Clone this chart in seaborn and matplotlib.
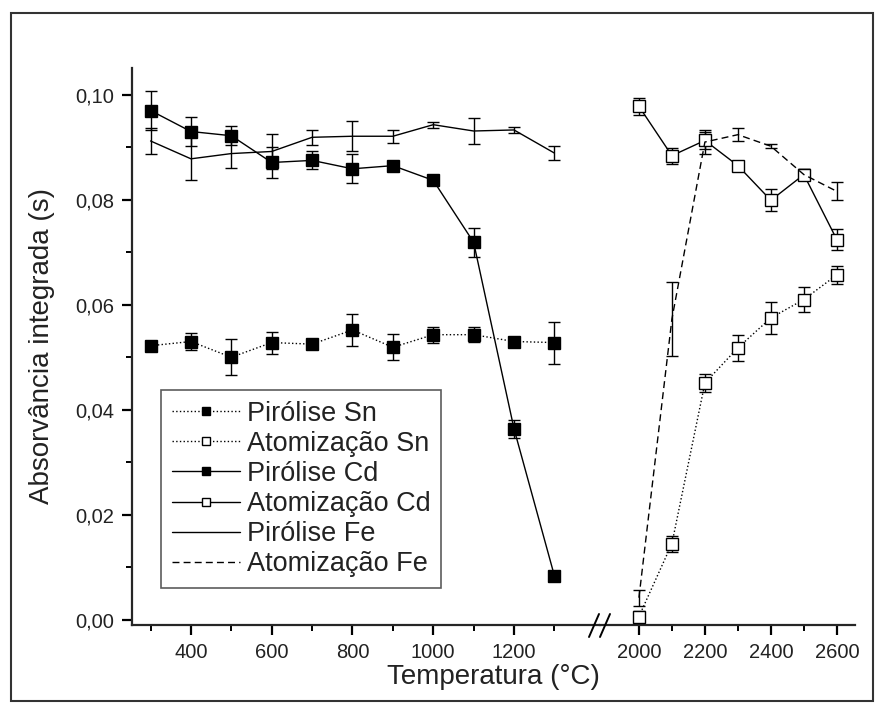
import matplotlib
matplotlib.use('Agg')
import matplotlib.pyplot as plt
from matplotlib.lines import Line2D
from matplotlib.patches import Rectangle
from matplotlib.ticker import FuncFormatter
import seaborn as sns

# temperatures (°C)
temp_pir = [300, 400, 500, 600, 700, 800, 900, 1000, 1100, 1200, 1300]
temp_atom = [2000, 2100, 2200, 2300, 2400, 2500, 2600]

# pyrolysis curves
sn_pir = [0.0522, 0.0530, 0.0500, 0.0528, 0.0525, 0.0552, 0.0519, 0.0543, 0.0543, 0.0530, 0.0528]
sn_pir_err = [0.0005, 0.0017, 0.0034, 0.0021, 0.0007, 0.0030, 0.0025, 0.0015, 0.0014, 0.0007, 0.0040]
cd_pir = [0.0970, 0.0930, 0.0922, 0.0871, 0.0875, 0.0859, 0.0865, 0.0837, 0.0719, 0.0364, 0.0084]
cd_pir_err = [0.0037, 0.0028, 0.0018, 0.0030, 0.0017, 0.0028, 0.0003, 0.0004, 0.0028, 0.0017, 0.0]
fe_pir = [0.0912, 0.0878, 0.0888, 0.0892, 0.0919, 0.0921, 0.0921, 0.0943, 0.0931, 0.0933, 0.0889]
fe_pir_err = [0.0025, 0.0041, 0.0027, 0.0034, 0.0014, 0.0029, 0.0012, 0.0006, 0.0025, 0.0006, 0.0013]

# atomization curves
sn_atom = [0.0006, 0.0145, 0.0451, 0.0518, 0.0575, 0.0610, 0.0657]
sn_atom_err = [0.0010, 0.0015, 0.0018, 0.0025, 0.0030, 0.0023, 0.0017]
cd_atom = [0.0978, 0.0884, 0.0913, 0.0865, 0.0799, 0.0848, 0.0724]
cd_atom_err = [0.0016, 0.0015, 0.0017, 0.0002, 0.0021, 0.0010, 0.0020]
fe_atom = [0.0042, 0.0573, 0.0910, 0.0924, 0.0902, 0.0848, 0.0816]
fe_atom_err = [0.0015, 0.0070, 0.0022, 0.0012, 0.0004, 0.0010, 0.0017]

labels = ['Pirólise Sn', 'Atomização Sn', 'Pirólise Cd', 'Atomização Cd',
          'Pirólise Fe', 'Atomização Fe']

sns.set_style('ticks')
plt.rcParams['font.family'] = ['Liberation Sans', 'DejaVu Sans']
fs = 14.5
txt = '#222222'

W, H = 877, 704
fig = plt.figure(figsize=(W / 100, H / 100), dpi=100)
ax1 = fig.add_axes([132 / W, (H - 625) / H, (600 - 132) / W, 557 / H])
ax2 = fig.add_axes([600 / W, (H - 625) / H, 255 / W, 557 / H], sharey=ax1)

dash = (0, (5, 3))


def draw(ax, x, y, err, ls, marker, filled):
    ax.errorbar(x, y, yerr=err, fmt='none', ecolor='black', elinewidth=1,
                capsize=4, capthick=1, zorder=2)
    kw = dict(color='black', linestyle=ls, lw=1, sort=False, zorder=3)
    if marker:
        kw.update(marker='s', markersize=8, markeredgecolor='black',
                  markeredgewidth=1,
                  markerfacecolor='black' if filled else 'white')
    sns.lineplot(x=x, y=y, ax=ax, **kw)


draw(ax1, temp_pir, sn_pir, sn_pir_err, ':', True, True)
draw(ax1, temp_pir, cd_pir, cd_pir_err, '-', True, True)
draw(ax1, temp_pir, fe_pir, fe_pir_err, '-', False, True)
draw(ax2, temp_atom, sn_atom, sn_atom_err, ':', True, False)
draw(ax2, temp_atom, cd_atom, cd_atom_err, '-', True, False)
draw(ax2, temp_atom, fe_atom, fe_atom_err, dash, False, False)

ax1.set_ylim(-0.001, 0.1051)
ax1.set_xlim(254, 1413)
ax2.set_xlim(1882, 2655)

ax1.set_xticks([400, 600, 800, 1000, 1200])
ax1.set_xticks([300, 500, 700, 900, 1100, 1300], minor=True)
ax1.set_yticks([0.0, 0.02, 0.04, 0.06, 0.08, 0.10])
ax1.set_yticks([0.01, 0.03, 0.05, 0.07, 0.09], minor=True)
ax1.yaxis.set_major_formatter(FuncFormatter(lambda v, p: f'{v:.2f}'.replace('.', ',')))
ax2.set_xticks([2000, 2200, 2400, 2600])
ax2.set_xticks([2100, 2300, 2500], minor=True)

for ax in (ax1, ax2):
    for s in ('top', 'right'):
        ax.spines[s].set_visible(False)
    ax.spines['bottom'].set_linewidth(1.6)
    ax.spines['left'].set_linewidth(1.6)
    ax.tick_params(which='major', length=7, width=1.6, labelsize=fs, pad=6,
                   color='black', labelcolor=txt)
    ax.tick_params(which='minor', length=4, width=1.4, color='black')
    ax.set_xlabel('')
    ax.set_ylabel('')
ax2.spines['left'].set_visible(False)
ax2.tick_params(axis='y', which='both', left=False, labelleft=False)

# axis titles
fig.text((132 + 855) / 2 / W, (H - 677) / H, 'Temperatura (°C)', fontsize=20,
         color=txt, ha='center', va='center')
fig.text(42 / W, (H - 346) / H, 'Absorvância integrada (s)', fontsize=20,
         color=txt, ha='center', va='center', rotation=90)

# axis break marks
for x0 in (589, 600):
    fig.add_artist(Line2D([x0 / W, (x0 + 10) / W], [(H - 637) / H, (H - 614) / H],
                          color='black', lw=1.4))

handles = [
    Line2D([], [], color='black', ls=':', lw=1, marker='s', ms=5.5, mfc='black', mec='black'),
    Line2D([], [], color='black', ls=':', lw=1, marker='s', ms=5.5, mfc='white', mec='black'),
    Line2D([], [], color='black', ls='-', lw=1, marker='s', ms=5.5, mfc='black', mec='black'),
    Line2D([], [], color='black', ls='-', lw=1, marker='s', ms=5.5, mfc='white', mec='black'),
    Line2D([], [], color='black', ls='-', lw=1),
    Line2D([], [], color='black', ls=dash, lw=1),
]
leg = ax1.legend(handles, labels, loc='upper left', bbox_to_anchor=(29 / 468, 235 / 557),
                 borderaxespad=0, fontsize=19.5, frameon=True, fancybox=False,
                 handlelength=2.5, handletextpad=0.27, labelspacing=0.15,
                 borderpad=0.4)
leg.get_frame().set_edgecolor('#333333')
leg.get_frame().set_linewidth(1.2)
for t in leg.get_texts():
    t.set_color(txt)

# outer frame around the figure
fig.add_artist(Rectangle((11 / W, 3 / H), 862 / W, 688 / H, transform=fig.transFigure,
                         fill=False, edgecolor='#333333', lw=1.5))

fig.savefig('out.png', dpi=100)
